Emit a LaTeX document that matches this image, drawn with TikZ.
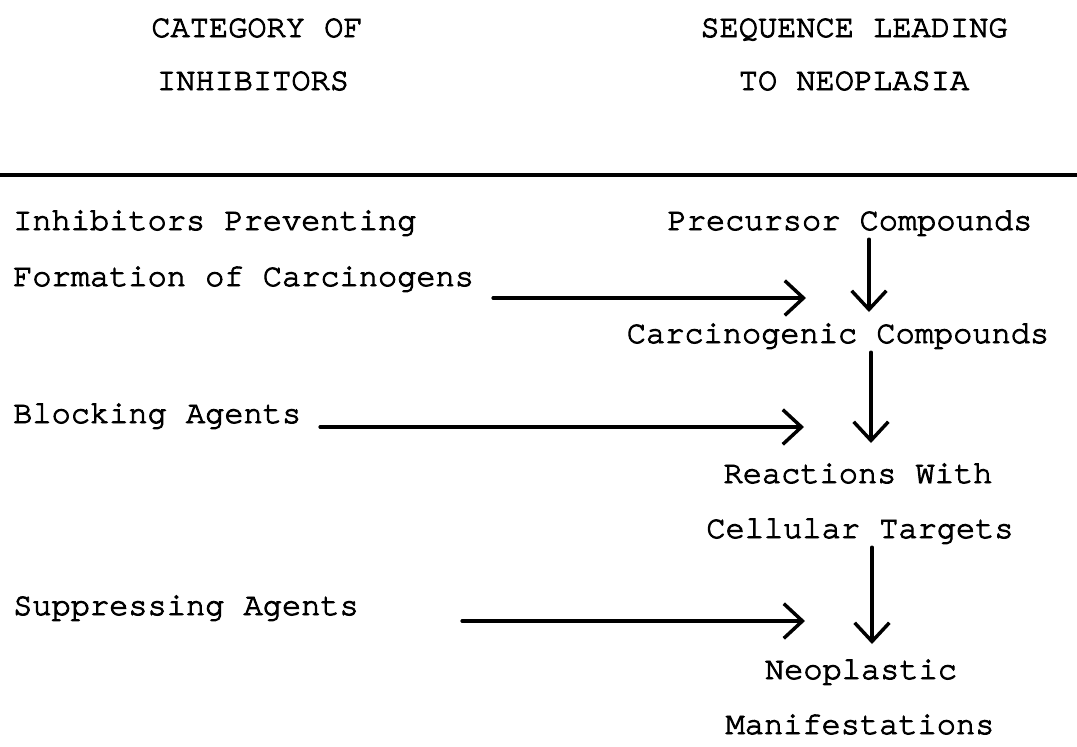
\documentclass[tikz,border=0pt]{standalone}
\usepackage{fontspec}
\setmainfont[FakeBold=3]{TeX Gyre Cursor}
\usetikzlibrary{
  arrows.meta
}
\tikzset{
  label/.style={font=\fontsize{12}{14}\selectfont, inner sep=1pt},
  flow/.style={->, line width=1.2pt, line cap=round},
}

\begin{document}
\begin{tikzpicture}[x=0.375pt, y=-0.375pt, >={Straight Barb[length=7pt,width=13pt,line width=1.3pt]}]
\useasboundingbox (0,0) rectangle (1077,747);
% column headings
\node[label, anchor=base] (cat1) at (257,37) {CATEGORY OF};
\node[label, anchor=base] (cat2) at (253,90) {INHIBITORS};
\node[label, anchor=base] (seq1) at (854,37) {SEQUENCE LEADING};
\node[label, anchor=base] (seq2) at (854,90) {TO NEOPLASIA};
\draw[line width=1.2pt] (0,175) -- (1077,175);

% inhibitors
\node[label, anchor=base west] (prev1) at (10,230) {Inhibitors Preventing};
\node[label, anchor=base west] (prev2) at (10,286) {Formation of Carcinogens};
\node[label, anchor=base west] (block) at (10,423) {Blocking Agents};
\node[label, anchor=base west] (supp) at (10,615) {Suppressing Agents};

% sequence
\node[label, anchor=base] (prec) at (850,230) {Precursor Compounds};
\node[label, anchor=base] (carc) at (838,343) {Carcinogenic Compounds};
\node[label, anchor=base] (react1) at (858,483) {Reactions With};
\node[label, anchor=base] (react2) at (860,538) {Cellular Targets};
\node[label, anchor=base] (neo1) at (861,679) {Neoplastic};
\node[label, anchor=base] (neo2) at (860,734) {Manifestations};

\coordinate (tip1) at (869,312);
\coordinate (tip2) at (871,443);
\coordinate (tip3) at (872,644);
\coordinate (end1) at (806,298);
\coordinate (end2) at (804,427);
\coordinate (end3) at (805,621);
\coordinate (beg1) at (493,298);
\coordinate (beg2) at (320,427);
\coordinate (beg3) at (462,621);

\draw[flow] (prec.south -| tip1) -- (tip1);
\draw[flow] (carc.south -| tip2) -- (tip2);
\draw[flow] (react2.south -| tip3) -- (tip3);

\draw[flow] (beg1) -- (end1);
\draw[flow] (beg2) -- (end2);
\draw[flow] (beg3) -- (end3);
\end{tikzpicture}
\end{document}
